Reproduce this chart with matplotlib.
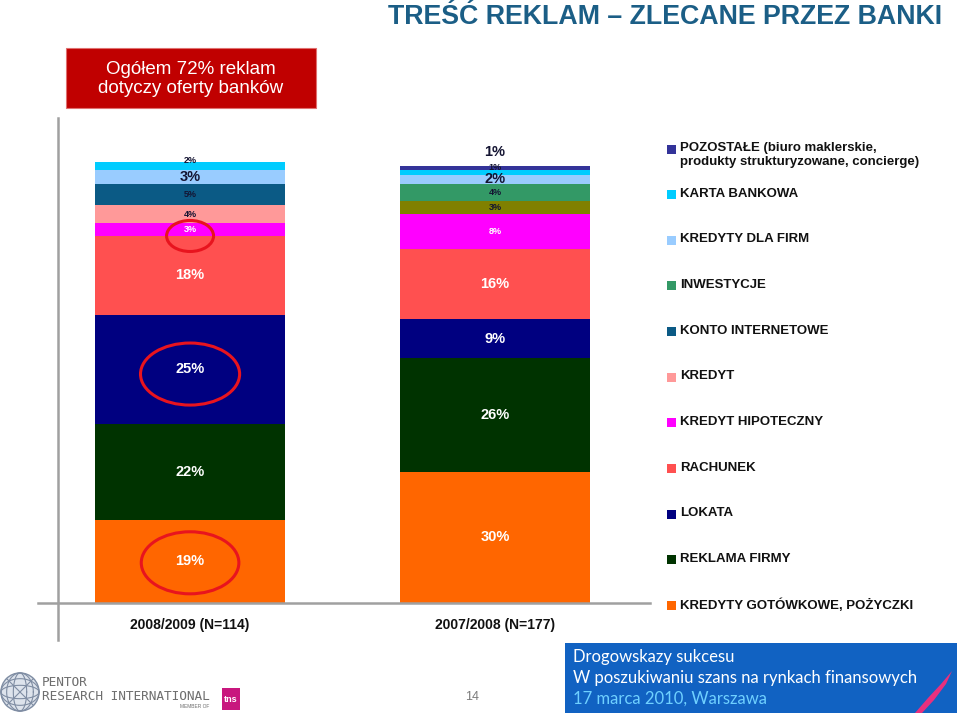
import numpy as np
import matplotlib
matplotlib.use('Agg')
import matplotlib.pyplot as plt
from matplotlib.patches import Rectangle, Ellipse, Polygon, Circle

# ---- data (stacked from the bottom up) ----
periods = ['2008/2009 (N=114)', '2007/2008 (N=177)']
categories = ['KREDYTY GOTÓWKOWE, POŻYCZKI', 'REKLAMA FIRMY', 'LOKATA', 'RACHUNEK',
              'KREDYT HIPOTECZNY', 'KREDYT', 'KONTO INTERNETOWE', 'INWESTYCJE',
              'KREDYTY DLA FIRM', 'KARTA BANKOWA',
              'POZOSTAŁE (biuro maklerskie,\nprodukty strukturyzowane, concierge)']
share_2009 = [19, 22, 25, 18, 3, 4, 5, 0, 3, 2, 0]
share_2008 = [30, 26, 9, 16, 8, 3, 0, 4, 2, 1, 1]

colors = ['#FF6600', '#003300', '#000080', '#FF5050', '#FF00FF', '#FF9999',
          '#0B5A85', '#339966', '#99CCFF', '#00CCFF', '#333399']
# second bar draws KREDYT in olive
colors_2008 = list(colors)
colors_2008[5] = '#808000'

white_labels = {'KREDYTY GOTÓWKOWE, POŻYCZKI', 'REKLAMA FIRMY', 'LOKATA', 'RACHUNEK', 'KREDYT HIPOTECZNY'}
big_labels = {'KREDYTY DLA FIRM', categories[-1]}

W, H = 960, 714
fig = plt.figure(figsize=(W / 100, H / 100), dpi=100)
plt.rcParams['font.family'] = ['Liberation Sans', 'DejaVu Sans']


def fx(px):
    return px / W


def fy(py):
    return 1 - py / H


ax = fig.add_axes([fx(58), fy(603), fx(650) - fx(58), (603 - 118) / H])
values = np.array([share_2009, share_2008])
x = np.arange(len(periods))
bottom = np.zeros(len(periods))
for i, cat in enumerate(categories):
    vals = values[:, i]
    ax.bar(x, vals, width=0.623, bottom=bottom, color=[colors[i], colors_2008[i]], linewidth=0)
    for j in range(len(periods)):
        v = vals[j]
        if v == 0:
            continue
        big = v >= 9 or cat in big_labels
        y = bottom[j] + v / 2
        if cat == categories[-1]:
            y = bottom[j] + v + 3.2
        elif cat == 'KARTA BANKOWA':
            y += 1.2  # nudged up, as in the original, so it sits above the big label
        col = 'white' if cat in white_labels else '#141432'
        ax.text(x[j], y, f'{v}%', ha='center', va='center', color=col,
                fontsize=10.5 if big else 6.5, fontweight='bold', zorder=5)
    bottom += vals

ax.set_xlim(-0.433, 1.508)
ax.set_ylim(0, 111)
ax.axis('off')

# axis lines
ax.plot([-20 / 592, 1], [0, 0], transform=ax.transAxes, color='#A0A0A0', lw=1.8, clip_on=False)
ax.plot([0, 0], [-37 / 485, 1], transform=ax.transAxes, color='#A0A0A0', lw=1.8, clip_on=False)
for j, p in enumerate(periods):
    ax.text(x[j], -5, p, ha='center', va='center', fontsize=10, fontweight='bold', color='#111111')

# red highlight ellipses
for cx, cy, w, h in [(0, 84, 0.154, 7.1), (0, 52.4, 0.325, 14.2), (0, 9.2, 0.32, 14.2)]:
    ax.add_patch(Ellipse((cx, cy), w, h, fill=False, edgecolor='#E8141E', lw=2.2, zorder=6))

# legend, drawn by hand, top entry first
leg_y0, leg_pitch = 149, 45.65
for k, cat in enumerate(categories[::-1]):
    idx = len(categories) - 1 - k
    yy = leg_y0 + k * leg_pitch
    fig.patches.append(Rectangle((fx(667), fy(yy + 4.5)), 9 / W, 9 / H, transform=fig.transFigure,
                                 facecolor=colors[idx], edgecolor='none'))
    fig.text(fx(680), fy(yy - 7), cat, ha='left', va='top', fontsize=9.5, fontweight='bold',
             color='#111111', linespacing=1.25)

# title
fig.text(fx(942), fy(17), 'TREŚĆ REKLAM – ZLECANE PRZEZ BANKI', ha='right', va='center',
         fontsize=19.3, fontweight='bold', color='#1B5E86')

# red box
fig.patches.append(Rectangle((fx(66), fy(108)), 250 / W, 60 / H, transform=fig.transFigure,
                             facecolor='#C00000', edgecolor='#E07070', lw=0.8))
fig.text(fx(191), fy(79), 'Ogółem 72% reklam\ndotyczy oferty banków', ha='center', va='center',
         fontsize=13.5, color='white', linespacing=1.15)

# footer: logo
logo = fig.add_axes([fx(0), fy(712), 40 / W, 40 / H])
logo.set_xlim(-1.05, 1.05)
logo.set_ylim(-1.05, 1.05)
logo.set_aspect('equal')
logo.axis('off')
logo.add_patch(Circle((0, 0), 1, facecolor='#DDE3EC', edgecolor='#7F8DA3', lw=1))
t = np.linspace(0, 2 * np.pi, 100)
for a in [0.35, 0.7]:
    logo.plot(a * np.cos(t), np.sin(t), color='#7F8DA3', lw=0.8)
    logo.plot(np.cos(t), a * np.sin(t), color='#7F8DA3', lw=0.8)
for ang in [45, -45]:
    r = np.radians(ang)
    logo.plot([-np.cos(r), np.cos(r)], [-np.sin(r), np.sin(r)], color='#7F8DA3', lw=0.8)
fig.text(fx(42), fy(683), 'PENTOR', ha='left', va='center', fontsize=9.2, color='#6E6E6E',
         family='DejaVu Sans Mono')
fig.text(fx(42), fy(696), 'RESEARCH INTERNATIONAL', ha='left', va='center', fontsize=9.2,
         color='#6E6E6E', family='DejaVu Sans Mono')
fig.text(fx(180), fy(706), 'MEMBER OF', ha='left', va='center', fontsize=3.5, color='#6E6E6E')
fig.patches.append(Rectangle((fx(222), fy(710)), 18 / W, 22 / H, transform=fig.transFigure,
                             facecolor='#C8177E', edgecolor='none'))
fig.text(fx(231), fy(699), 'tns', ha='center', va='center', fontsize=6.5, color='white', fontweight='bold')

fig.text(fx(472), fy(697), '14', ha='center', va='center', fontsize=9, color='#7A7A7A')

# footer: blue box
fig.patches.append(Rectangle((fx(565), fy(713)), 392 / W, 70 / H, transform=fig.transFigure,
                             facecolor='#1162C2', edgecolor='none'))
fig.patches.append(Polygon([(fx(915), fy(713)), (fx(928), fy(698)), (fx(941), fy(684)),
                            (fx(952), fy(671)), (fx(946), fy(684)), (fx(934), fy(700)),
                            (fx(922), fy(713))], closed=True, transform=fig.transFigure,
                           facecolor='#E8307E', edgecolor='none'))
fig.text(fx(573), fy(657), 'Drogowskazy sukcesu', ha='left', va='center', fontsize=12,
         color='white', family='Lato')
fig.text(fx(573), fy(678), 'W poszukiwaniu szans na rynkach finansowych', ha='left', va='center',
         fontsize=12, color='white', family='Lato')
fig.text(fx(573), fy(699), '17 marca 2010, Warszawa', ha='left', va='center', fontsize=12,
         color='#6FD0FF', family='Lato')

fig.savefig('out.png', dpi=100)
